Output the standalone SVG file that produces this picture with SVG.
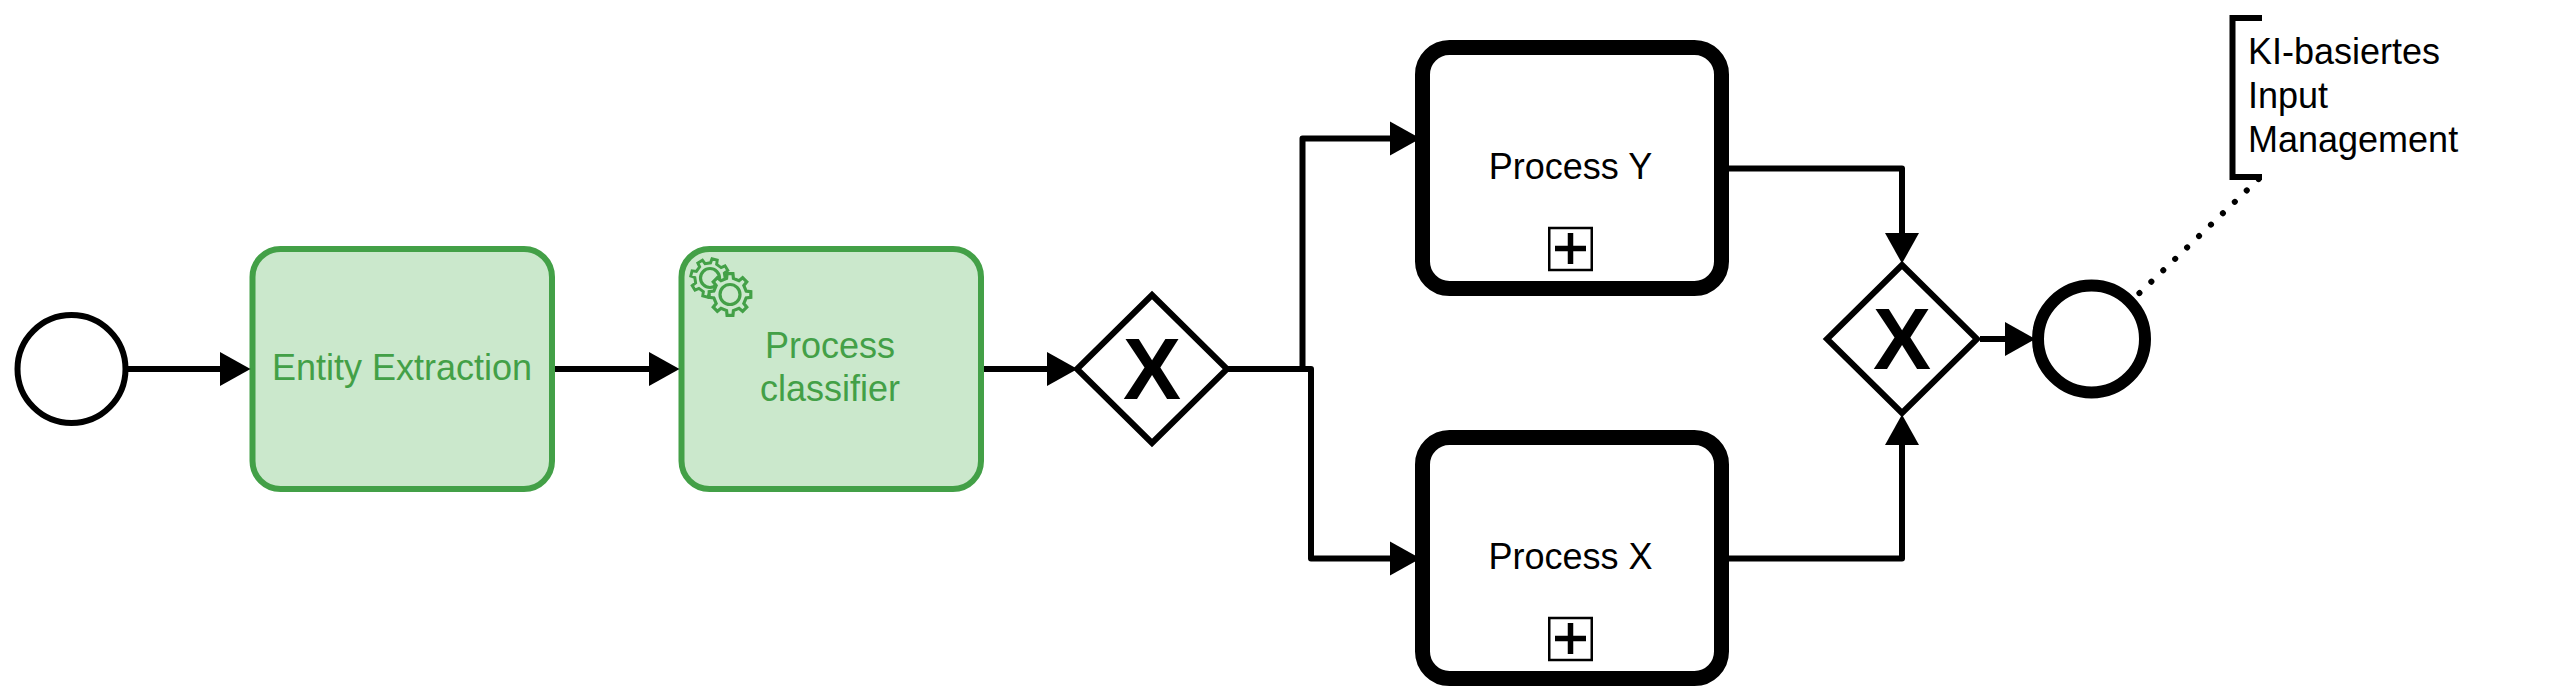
<svg xmlns="http://www.w3.org/2000/svg" width="2550" height="696" viewBox="0 0 2550 696">
<style>
text{font-family:"Liberation Sans",Arial,sans-serif;font-size:36px;fill:#000}
.c{text-anchor:middle}
.g{fill:#43a047}
.task{fill:#cbe8cc;stroke:#43a047;stroke-width:6}
.sub{fill:#fff;stroke:#000;stroke-width:15}
.gw{fill:#fff;stroke:#000;stroke-width:6;stroke-linejoin:miter}
.mk{fill:#fff;stroke:#000;stroke-width:2.5}
.plus{fill:none;stroke:#000;stroke-width:5.5}
.x{font-weight:700;font-size:87px;text-anchor:middle}
.flow{fill:none;stroke:#000;stroke-width:6;stroke-linejoin:round}
.gear{fill:#cbe8cc;stroke:#43a047;stroke-width:3.2;stroke-linejoin:miter}
</style>
<defs>
<marker id="arrow" markerUnits="userSpaceOnUse" markerWidth="31" markerHeight="35" refX="20" refY="17.5" orient="auto"><path d="M0 0.5L30.5 17.5L0 34.5Z" fill="#000"/></marker>
<path id="gearshape" d="M16.14 -3.43L20.8 -2.92L20.8 2.92L16.14 3.43L13.84 8.99L16.77 12.64L12.64 16.77L8.99 13.84L3.43 16.14L2.92 20.8L-2.92 20.8L-3.43 16.14L-8.99 13.84L-12.64 16.77L-16.77 12.64L-13.84 8.99L-16.14 3.43L-20.8 2.92L-20.8 -2.92L-16.14 -3.43L-13.84 -8.99L-16.77 -12.64L-12.64 -16.77L-8.99 -13.84L-3.43 -16.14L-2.92 -20.8L2.92 -20.8L3.43 -16.14L8.99 -13.84L12.64 -16.77L16.77 -12.64L13.84 -8.99Z"/>
</defs>
<rect width="2550" height="696" fill="#fff"/>
<g id="start-event"><circle cx="71.5" cy="369" r="54" fill="#fff" stroke="#000" stroke-width="6"/></g>
<g id="entity-extraction">
<rect class="task" x="252.5" y="249" width="299.5" height="240" rx="28" ry="28"/>
<text class="c g" x="402" y="380">Entity Extraction</text>
</g>
<g id="process-classifier">
<rect class="task" x="681.5" y="249" width="299.5" height="240" rx="28" ry="28"/>
<g>
<use href="#gearshape" class="gear" transform="translate(710 278) rotate(14) scale(.92)"/>
<circle cx="710" cy="278" r="9.5" fill="none" stroke="#43a047" stroke-width="3.2"/>
<use href="#gearshape" class="gear" transform="translate(730 294.5)"/>
<circle cx="730" cy="294.5" r="10" fill="none" stroke="#43a047" stroke-width="3.2"/>
</g>
<text class="c g" x="830" y="358">Process</text>
<text class="c g" x="830" y="401">classifier</text>
</g>
<g id="split-gateway">
<path class="gw" d="M1152 295L1227 369L1152 443L1077 369Z"/>
<text class="x" x="1152" y="399">X</text>
</g>
<g id="process-y">
<rect class="sub" x="1422.5" y="47.5" width="299" height="241" rx="27" ry="27"/>
<text class="c" x="1570.5" y="179">Process Y</text>
<rect class="mk" x="1549.25" y="228" width="42.5" height="42"/>
<path class="plus" d="M1555 248.5H1586M1570.5 233V264"/>
</g>
<g id="process-x">
<rect class="sub" x="1422.5" y="437.5" width="299" height="241" rx="27" ry="27"/>
<text class="c" x="1570.5" y="569">Process X</text>
<rect class="mk" x="1549.25" y="618" width="42.5" height="42"/>
<path class="plus" d="M1555 638.5H1586M1570.5 623V654"/>
</g>
<g id="merge-gateway">
<path class="gw" d="M1902 265L1977 339L1902 413L1827 339Z"/>
<text class="x" x="1902" y="368.5">X</text>
</g>
<g id="end-event"><circle cx="2091.5" cy="339" r="53.5" fill="#fff" stroke="#000" stroke-width="12"/></g>
<g id="annotation">
<path d="M2262 18H2232.5V177H2262" fill="none" stroke="#000" stroke-width="6"/>
<text x="2248" y="64">KI-basiertes</text>
<text x="2248" y="108">Input</text>
<text x="2248" y="152">Management</text>
</g>
<g id="connectors">
<path class="flow" marker-end="url(#arrow)" d="M128 369H240"/>
<path class="flow" marker-end="url(#arrow)" d="M555 369H669"/>
<path class="flow" marker-end="url(#arrow)" d="M984 369H1067"/>
<path class="flow" marker-end="url(#arrow)" d="M1228 369H1302.5V138.5H1410"/>
<path class="flow" marker-end="url(#arrow)" d="M1228 369H1311V558.5H1410"/>
<path class="flow" marker-end="url(#arrow)" d="M1729 168.5H1902V253"/>
<path class="flow" marker-end="url(#arrow)" d="M1729 558.5H1902V425"/>
<path class="flow" marker-end="url(#arrow)" d="M1980 339H2025"/>
<path d="M2258.7 179L2139 293.5" fill="none" stroke="#000" stroke-width="6" stroke-linecap="round" stroke-dasharray="0.1 16.4"/>
</g>
</svg>
